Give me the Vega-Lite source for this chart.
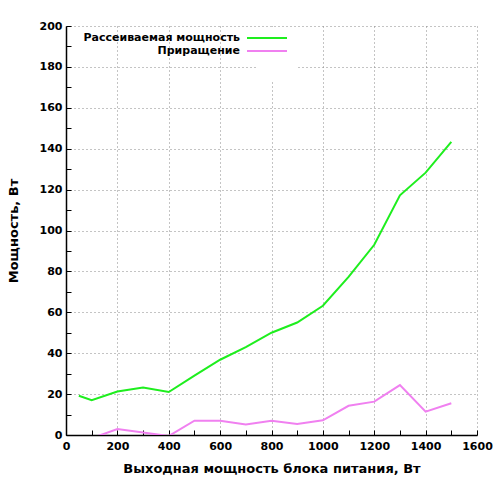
{
  "$schema": "https://vega.github.io/schema/vega-lite/v6.json",
  "autosize": "none",
  "width": 411,
  "height": 409,
  "padding": {"left": 66, "top": 26, "right": 23, "bottom": 65},
  "background": "white",
  "config": {
    "font": "DejaVu Sans",
    "view": {"stroke": null},
    "axis": {
      "labelFont": "DejaVu Sans",
      "labelFontWeight": "bold",
      "labelFontSize": 11,
      "labelColor": "black",
      "titleFont": "DejaVu Sans",
      "titleFontWeight": "bold",
      "titleFontSize": 13,
      "titleColor": "black",
      "domainColor": "black",
      "domainWidth": 1.5,
      "tickColor": "black",
      "tickSize": -5,
      "tickWidth": 1,
      "gridColor": "#888888",
      "gridDash": [1, 3],
      "gridWidth": 1
    }
  },
  "data": {
    "values": [
      {"p": 50, "w": 19.2, "s": "Рассеиваемая мощность"},
      {"p": 100, "w": 17, "s": "Рассеиваемая мощность"},
      {"p": 200, "w": 21.3, "s": "Рассеиваемая мощность"},
      {"p": 300, "w": 23.2, "s": "Рассеиваемая мощность"},
      {"p": 400, "w": 21, "s": "Рассеиваемая мощность"},
      {"p": 500, "w": 29, "s": "Рассеиваемая мощность"},
      {"p": 600, "w": 36.8, "s": "Рассеиваемая мощность"},
      {"p": 700, "w": 43, "s": "Рассеиваемая мощность"},
      {"p": 800, "w": 50, "s": "Рассеиваемая мощность"},
      {"p": 900, "w": 55, "s": "Рассеиваемая мощность"},
      {"p": 1000, "w": 63.2, "s": "Рассеиваемая мощность"},
      {"p": 1100, "w": 77.3, "s": "Рассеиваемая мощность"},
      {"p": 1200, "w": 93, "s": "Рассеиваемая мощность"},
      {"p": 1300, "w": 117.2, "s": "Рассеиваемая мощность"},
      {"p": 1400, "w": 128.3, "s": "Рассеиваемая мощность"},
      {"p": 1500, "w": 143.3, "s": "Рассеиваемая мощность"},
      {"p": 100, "w": -1.6, "s": "Приращение"},
      {"p": 200, "w": 2.9, "s": "Приращение"},
      {"p": 300, "w": 1.2, "s": "Приращение"},
      {"p": 400, "w": -0.5, "s": "Приращение"},
      {"p": 500, "w": 7, "s": "Приращение"},
      {"p": 600, "w": 7, "s": "Приращение"},
      {"p": 700, "w": 5.2, "s": "Приращение"},
      {"p": 800, "w": 7, "s": "Приращение"},
      {"p": 900, "w": 5.4, "s": "Приращение"},
      {"p": 1000, "w": 7.2, "s": "Приращение"},
      {"p": 1100, "w": 14.3, "s": "Приращение"},
      {"p": 1200, "w": 16.3, "s": "Приращение"},
      {"p": 1300, "w": 24.4, "s": "Приращение"},
      {"p": 1400, "w": 11.4, "s": "Приращение"},
      {"p": 1500, "w": 15.5, "s": "Приращение"}
    ]
  },
  "mark": {"type": "line", "strokeWidth": 2, "clip": true},
  "encoding": {
    "x": {
      "field": "p",
      "type": "quantitative",
      "scale": {"domain": [0, 1600], "nice": false, "zero": false},
      "axis": {
        "title": "Выходная мощность блока питания, Вт",
        "values": [0, 100, 200, 300, 400, 500, 600, 700, 800, 900, 1000, 1100, 1200, 1300, 1400, 1500, 1600],
        "labelExpr": "datum.value % 200 == 0 ? datum.label : ''",
        "labelPadding": 10,
        "labelFlush": false,
        "labelOverlap": false,
        "format": "d",
        "gridOpacity": {"condition": {"test": "datum.value % 200 == 0", "value": 1}, "value": 0},
        "titlePadding": 11
      }
    },
    "y": {
      "field": "w",
      "type": "quantitative",
      "scale": {"domain": [0, 200], "nice": false, "zero": false},
      "axis": {
        "title": "Мощность, Вт",
        "values": [0, 10, 20, 30, 40, 50, 60, 70, 80, 90, 100, 110, 120, 130, 140, 150, 160, 170, 180, 190, 200],
        "labelExpr": "datum.value % 20 == 0 ? datum.label : ''",
        "labelPadding": 9,
        "labelFlush": false,
        "labelOverlap": false,
        "format": "d",
        "gridOpacity": {"condition": {"test": "datum.value % 20 == 0", "value": 1}, "value": 0},
        "titlePadding": 19
      }
    },
    "color": {
      "field": "s",
      "type": "nominal",
      "scale": {
        "domain": ["Рассеиваемая мощность", "Приращение"],
        "range": ["#1eee1e", "#f080f0"]
      },
      "legend": {
        "title": " ",
        "titleOrient": "bottom",
        "titleFontSize": 6,
        "titlePadding": 13,
        "orient": "none",
        "legendX": 190,
        "legendY": 1,
        "padding": 5,
        "fillColor": "white",
        "symbolType": "M-4,0H4",
        "symbolSize": 100,
        "symbolStrokeWidth": 2,
        "labelAlign": "right",
        "labelOffset": -33,
        "labelFont": "DejaVu Sans",
        "labelFontWeight": "bold",
        "labelFontSize": 11,
        "labelColor": "black",
        "rowPadding": 2
      }
    }
  }
}
